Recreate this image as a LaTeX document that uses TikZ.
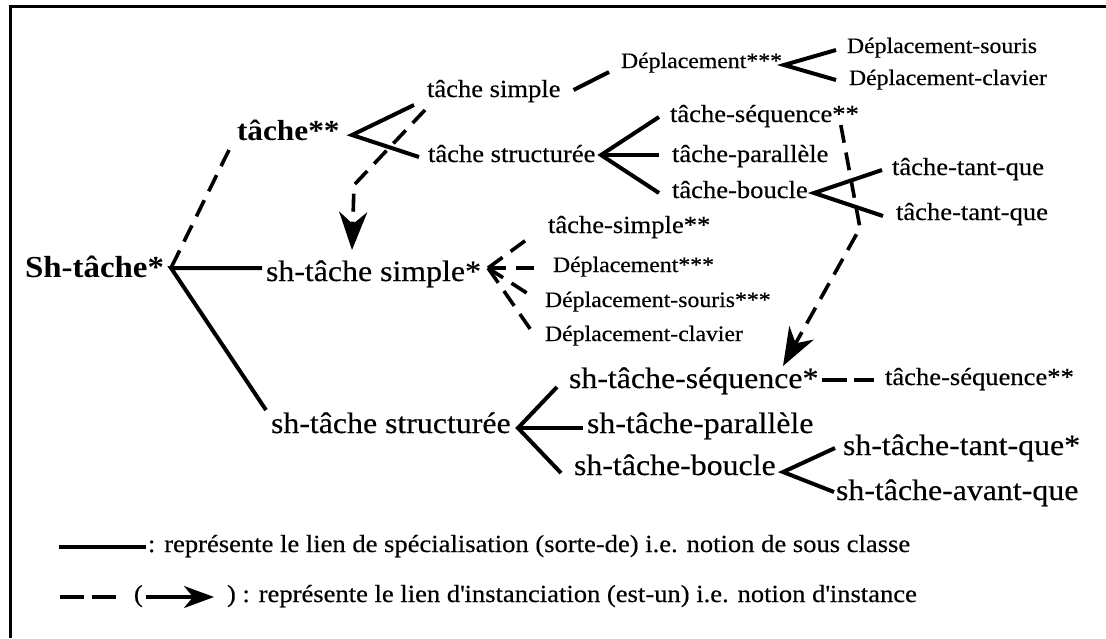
\documentclass[tikz,border=0pt]{standalone}
\usepackage{fontspec}
\setmainfont{Liberation Serif}[FakeStretch=1.08,UprightFeatures={FakeBold=0.4}]
\usetikzlibrary{arrows.meta,calc}

\begin{document}
\begin{tikzpicture}[x=1pt,y=-1pt,
  lbl/.style={anchor=base west,inner sep=0pt,outer sep=0pt},
  big/.style={lbl,font=\fontsize{29.5}{32}\selectfont},
  mid/.style={lbl,font=\fontsize{24.6}{27}\selectfont},
  sml/.style={lbl,font=\fontsize{22}{24}\selectfont},
  spec/.style={line width=4pt},
  inst/.style={line width=3.6pt,dash pattern=on 18pt off 10pt},
  head/.style={-{Stealth[length=38pt,width=28pt,inset=12pt]}},
]
\useasboundingbox (0,0) rectangle (1106,638);

% frame (top and left edges)
\draw[line width=3pt] (1106,6) -- (10,6) -- (10,638);

% class and instance labels
\node[lbl,font=\fontsize{30.5}{32}\selectfont\bfseries] (sh) at (25,277) {Sh-tâche*};
\node[lbl,font=\fontsize{29}{32}\selectfont\bfseries] (t) at (237,140) {tâche**};
\node[mid] (ts) at (427,97) {tâche simple};
\node[mid] (tst) at (428,162) {tâche structurée};
\node[sml] (dp) at (621,68) {Déplacement***};
\node[sml] (dps) at (847,53) {Déplacement-souris};
\node[sml] (dpc) at (849,85) {Déplacement-clavier};
\node[mid] (tsq) at (670,122) {tâche-séquence**};
\node[mid] (tpa) at (672,162) {tâche-parallèle};
\node[mid] (tbo) at (672,198) {tâche-boucle};
\node[mid] (ttq1) at (892,175) {tâche-tant-que};
\node[mid] (ttq2) at (896,220) {tâche-tant-que};
\node[big] (shs) at (266,281) {sh-tâche simple*};
\node[mid] (ts2) at (548,233) {tâche-simple**};
\node[sml] (dp2) at (553,272) {Déplacement***};
\node[sml] (dps2) at (545,307) {Déplacement-souris***};
\node[sml] (dpc2) at (545,341) {Déplacement-clavier};
\node[big] (shst) at (271,433) {sh-tâche structurée};
\node[big] (shsq) at (569,388) {sh-tâche-séquence*};
\node[mid] (tsq2) at (885,385) {tâche-séquence**};
\node[big] (shpa) at (587,433) {sh-tâche-parallèle};
\node[big] (shbo) at (574,475) {sh-tâche-boucle};
\node[big] (shtq) at (843,455) {sh-tâche-tant-que*};
\node[big] (shaq) at (836,500) {sh-tâche-avant-que};

% fork points
\coordinate (fSh) at (171,268);
\coordinate (fT)  at (352,135);
\coordinate (fD)  at (784,65);
\coordinate (fS)  at (601,155);
\coordinate (fB)  at (814,193);
\coordinate (fSS) at (488,268);
\coordinate (fSt) at (518,428);
\coordinate (fSB) at (783,472);
\coordinate (bendA) at (354,185);
\coordinate (bendB) at (860,228);

% specialisation links
\draw[spec] ($(shs.base west)+(-4,-13)$) -- (fSh) -- ($(shst.base west)+(-5,-23)$);
\draw[spec] ($(ts.base west)+(-13,8)$) -- (fT) -- ($(tst.base west)+(-9,-5)$);
\draw[spec] ($(ts.base east)+(13,-7)$) -- ($(dp.base west)+(-12,4)$);
\draw[spec] ($(dps.base west)+(-11,-3)$) -- (fD) -- ($(dpc.base west)+(-13,-5)$);
\draw[spec] ($(tsq.base west)+(-11,-5)$) -- (fS) -- ($(tbo.base west)+(-13,-5)$);
\draw[spec] (fS) -- ($(tpa.base west)+(-13,-7)$);
\draw[spec] ($(ttq1.base west)+(-10,-5)$) -- (fB) -- ($(ttq2.base west)+(-13,-4)$);
\draw[spec] ($(shsq.base west)+(-12,-1)$) -- (fSt) -- ($(shbo.base west)+(-13,-2)$);
\draw[spec] (fSt) -- ($(shpa.base west)+(-4,-5)$);
\draw[spec] ($(shtq.base west)+(-8,-7)$) -- (fSB) -- ($(shaq.base west)+(-2,-8)$);

% instance links
\draw[inst] ($(t.base west)+(-8,10)$) -- (fSh);
\draw[inst] (fSS) -- ($(ts2.base west)+(-15,2)$);
\draw[inst] (fSS) -- ($(dp2.base west)+(-11,-4)$);
\draw[inst] (fSS) -- ($(dps2.base west)+(-12,-10)$);
\draw[inst] (fSS) -- ($(dpc2.base west)+(-12,-8)$);
\draw[line width=3.6pt,dash pattern=on 25pt off 7pt]
  ($(shsq.base east)+(4,-8)$) -- ($(tsq2.base west)+(-11,-5)$);
\draw[inst,head] ($(ts.base west)+(-2,13)$) -- (bendA) -- ($(shs.base west)+(86,-31)$);
\draw[inst,head] ($(tsq.base east)+(-18,3)$) -- (bendB) -- ($(shsq.base west)+(214,-22)$);

% legend
\node[mid] (lg1) at (148,552) {: représente le lien de spécialisation (sorte-de) i.e. notion de sous classe};
\draw[line width=3.2pt] ($(lg1.base west)+(-89,-5)$) -- ($(lg1.base west)+(-2,-5)$);
\node[mid] (lg2a) at (134,602) {(};
\node[mid] (lg2b) at (227,602) {) : représente le lien d\textquotesingle instanciation (est-un) i.e. notion d\textquotesingle instance};
\draw[line width=3.2pt,dash pattern=on 24pt off 8pt]
  ($(lg2a.base west)+(-74,-5)$) -- ($(lg2a.base west)+(-18,-5)$);
\draw[line width=3.2pt,-{Stealth[length=30pt,width=22pt,inset=9pt]}]
  ($(lg2a.base east)+(3,-5)$) -- ($(lg2b.base west)+(-13,-5)$);
\end{tikzpicture}
\end{document}
